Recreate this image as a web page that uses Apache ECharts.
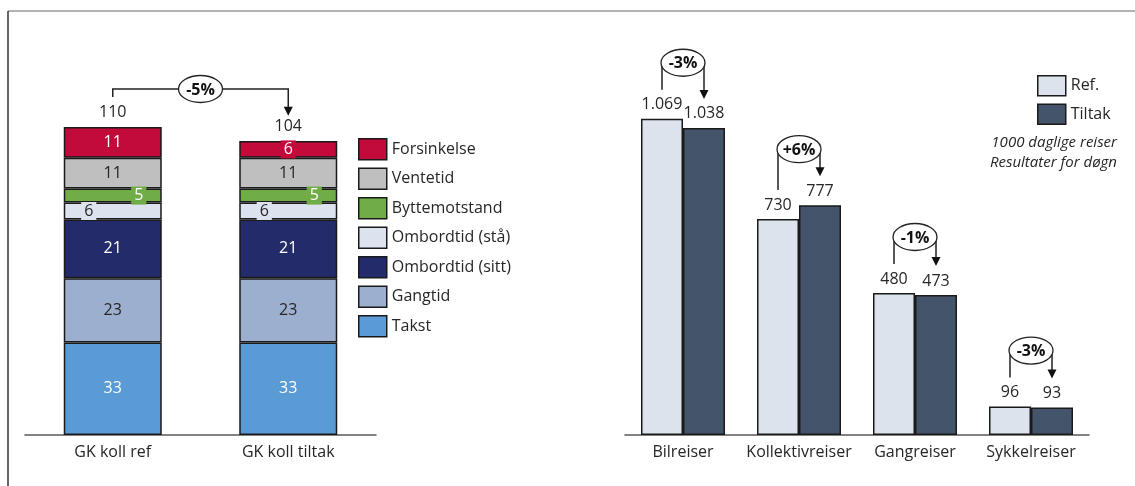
<!DOCTYPE html>
<html>
<head>
<meta charset="utf-8">
<script src="https://cdn.jsdelivr.net/npm/echarts@6/dist/echarts.min.js"></script>
<style>
  html, body { margin: 0; padding: 0; background: #fff; }
  #chart { width: 1135px; height: 486px; }
</style>
</head>
<body>
<div id="chart"></div>
<script>
// venstre: generalisert kostnad, stablet
var leftCategories = ['GK koll ref', 'GK koll tiltak'];
var takst = [33, 33];
var gangtid = [23, 23];
var ombordSitt = [21, 21];
var ombordStaa = [6, 6];
var byttemotstand = [5, 5];
var ventetid = [11, 11];
var forsinkelse = [11, 6];
var leftTotals = [110, 104];
var leftChange = '-5%';

// hoyre: reiser per modus
var rightCategories = ['Bilreiser', 'Kollektivreiser', 'Gangreiser', 'Sykkelreiser'];
var refValues = [1069, 730, 480, 96];
var tiltakValues = [1038, 777, 473, 93];
var rightChanges = ['-3%', '+6%', '-1%', '-3%'];

var FONT = 'Open Sans';
var TXT = '#262626';
var BORDER = '#1a1a1a';
var rightBarWidth = 42;

function fmt(v) {
    return String(v).replace(/\B(?=(\d{3})+(?!\d))/g, '.');
}

function seg(name, data, color, labelColor, extra) {
    var label = {
        show: true,
        position: 'inside',
        color: labelColor,
        fontFamily: FONT,
        fontSize: 16
    };
    if (extra) {
        for (var k in extra) label[k] = extra[k];
    }
    return {
        name: name,
        type: 'bar',
        stack: 'gk',
        xAxisIndex: 0,
        yAxisIndex: 0,
        barWidth: 98,
        data: data,
        itemStyle: { color: color, borderColor: BORDER, borderWidth: 1.5 },
        label: label
    };
}

var chart = echarts.init(document.getElementById('chart'));

var legendText = { fontFamily: FONT, fontSize: 16, color: TXT };

chart.setOption({
    animation: false,
    grid: [
        { left: 25, width: 351, top: 99, height: 336 },
        { left: 625, width: 464, top: 80, height: 355 }
    ],
    legend: [
        {
            orient: 'vertical',
            left: 358,
            top: 138,
            padding: 0,
            itemWidth: 28,
            itemHeight: 21,
            itemGap: 7,
            icon: 'rect',
            textStyle: legendText,
            itemStyle: { borderColor: BORDER, borderWidth: 1.5 },
            data: ['Forsinkelse', 'Ventetid', 'Byttemotstand', 'Ombordtid (stå)',
                'Ombordtid (sitt)', 'Gangtid', 'Takst']
        },
        {
            orient: 'vertical',
            left: 1037,
            top: 75,
            padding: 0,
            itemWidth: 28,
            itemHeight: 20,
            itemGap: 7,
            icon: 'rect',
            textStyle: legendText,
            itemStyle: { borderColor: BORDER, borderWidth: 1.5 },
            data: ['Ref.', 'Tiltak']
        }
    ],
    xAxis: [
        {
            type: 'category', gridIndex: 0, data: leftCategories,
            axisLine: { lineStyle: { color: '#595959', width: 1.5 } },
            axisTick: { show: false },
            axisLabel: { interval: 0, fontFamily: FONT, fontSize: 16, color: TXT, margin: 9 }
        },
        {
            type: 'category', gridIndex: 1, data: rightCategories,
            axisLine: { lineStyle: { color: '#595959', width: 1.5 } },
            axisTick: { show: false },
            axisLabel: { interval: 0, fontFamily: FONT, fontSize: 16, color: TXT, margin: 9 }
        }
    ],
    yAxis: [
        { type: 'value', gridIndex: 0, min: 0, max: 120, show: false },
        { type: 'value', gridIndex: 1, min: 0, max: 1200, show: false }
    ],
    series: [
        seg('Takst', takst, '#5B9BD5', '#fff'),
        seg('Gangtid', gangtid, '#9DAFCE', TXT),
        seg('Ombordtid (sitt)', ombordSitt, '#232B6B', '#fff'),
        seg('Ombordtid (stå)', ombordStaa, '#DCE3EE', TXT,
            { offset: [-24, 0], backgroundColor: '#DCE3EE', padding: [1, 3] }),
        seg('Byttemotstand', byttemotstand, '#70AD47', '#fff',
            { offset: [26, 0], backgroundColor: '#70AD47', padding: [1, 3] }),
        seg('Ventetid', ventetid, '#BFBFBF', TXT),
        seg('Forsinkelse', forsinkelse, '#C20B3B', '#fff',
            { backgroundColor: '#C20B3B', padding: [1, 3] }),
        {
            name: 'Sum',
            type: 'bar',
            stack: 'gk',
            xAxisIndex: 0,
            yAxisIndex: 0,
            barWidth: 98,
            data: [0, 0],
            itemStyle: { color: 'rgba(0,0,0,0)', borderWidth: 0 },
            label: {
                show: true,
                position: 'top',
                distance: 7,
                fontFamily: FONT,
                fontSize: 16,
                color: TXT,
                formatter: function (p) { return leftTotals[p.dataIndex]; }
            }
        },
        {
            name: 'Ref.',
            type: 'bar',
            xAxisIndex: 1,
            yAxisIndex: 1,
            barWidth: rightBarWidth,
            barGap: '0%',
            data: refValues,
            itemStyle: { color: '#DDE3ED', borderColor: BORDER, borderWidth: 1.5 },
            label: {
                show: true, position: 'top', distance: 6,
                fontFamily: FONT, fontSize: 16, color: TXT,
                formatter: function (p) { return fmt(p.value); }
            }
        },
        {
            name: 'Tiltak',
            type: 'bar',
            xAxisIndex: 1,
            yAxisIndex: 1,
            barWidth: rightBarWidth,
            barGap: '0%',
            data: tiltakValues,
            itemStyle: { color: '#44546A', borderColor: BORDER, borderWidth: 1.5 },
            label: {
                show: true, position: 'top', distance: 6,
                fontFamily: FONT, fontSize: 16, color: TXT,
                formatter: function (p) { return fmt(p.value); }
            }
        }
    ]
});

// piler med prosent-endring
function bracket(x1, y1, x2, tip, yTop, text, rx) {
    var els = [];
    els.push({
        type: 'polyline', z: 10,
        shape: { points: [[x1, y1], [x1, yTop], [x2, yTop], [x2, tip - 8]] },
        style: { stroke: '#222', lineWidth: 1.5, fill: null }
    });
    els.push({
        type: 'polygon', z: 10,
        shape: { points: [[x2 - 4.5, tip - 9], [x2 + 4.5, tip - 9], [x2, tip]] },
        style: { fill: '#111' }
    });
    els.push({
        type: 'ellipse', z: 11,
        shape: { cx: (x1 + x2) / 2, cy: yTop, rx: rx, ry: 13.5 },
        style: { fill: '#fff', stroke: '#222', lineWidth: 1.3 }
    });
    els.push({
        type: 'text', z: 12,
        style: {
            text: text, x: (x1 + x2) / 2, y: yTop + 1,
            align: 'center', verticalAlign: 'middle',
            font: 'bold 16px "Open Sans"', fill: '#111'
        }
    });
    return els;
}

var graphics = [
    { type: 'line', shape: { x1: 8, y1: 11, x2: 1135, y2: 11 }, style: { stroke: '#9a9a9a', lineWidth: 1.5 } },
    { type: 'line', shape: { x1: 8, y1: 11, x2: 8, y2: 486 }, style: { stroke: '#333', lineWidth: 1.5 } }
];

var pA = chart.convertToPixel({ xAxisIndex: 0, yAxisIndex: 0 }, [0, leftTotals[0]]);
var pB = chart.convertToPixel({ xAxisIndex: 0, yAxisIndex: 0 }, [1, leftTotals[1]]);
graphics = graphics.concat(bracket(pA[0], pA[1] - 30, pB[0], pB[1] - 28,
    Math.min(pA[1], pB[1]) - 38, leftChange, 22));

rightCategories.forEach(function (c, i) {
    var pr = chart.convertToPixel({ xAxisIndex: 1, yAxisIndex: 1 }, [i, refValues[i]]);
    var pt = chart.convertToPixel({ xAxisIndex: 1, yAxisIndex: 1 }, [i, tiltakValues[i]]);
    var xr = pr[0] - rightBarWidth / 2;
    var xt = pr[0] + rightBarWidth / 2;
    graphics = graphics.concat(bracket(xr, pr[1] - 29, xt, pt[1] - 29,
        Math.min(pr[1], pt[1]) - 56, rightChanges[i], rightBarWidth / 2 + 1));
});

graphics.push({
    type: 'text',
    style: {
        text: '1000 daglige reiser\nResultater for døgn',
        x: 1117, y: 133, align: 'right', verticalAlign: 'top',
        font: 'italic 15px "Open Sans"', fill: TXT, lineHeight: 20
    }
});

chart.setOption({ graphic: graphics });
</script>
</body>
</html>
